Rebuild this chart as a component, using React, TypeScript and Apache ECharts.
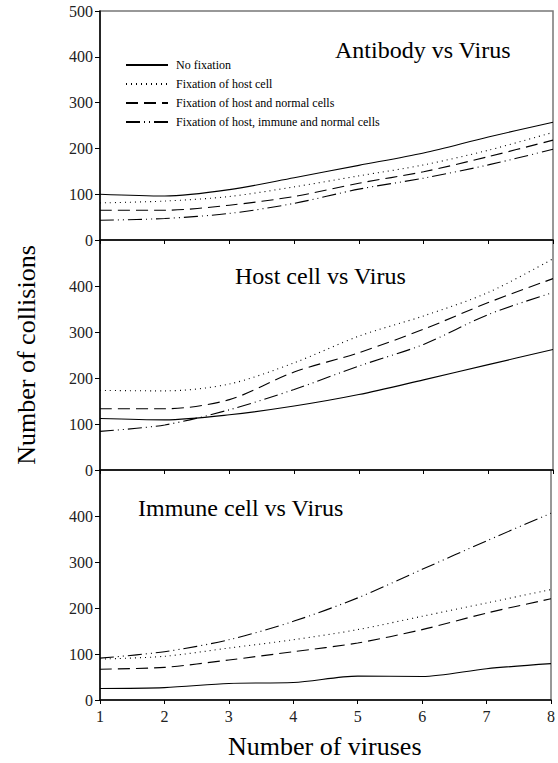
import React, { useEffect, useRef } from "react";
import * as echarts from "echarts";

const virusCounts = [1, 2, 3, 4, 5, 6, 7, 8];
const yTicks = [0, 100, 200, 300, 400, 500];
const seriesNames = [
  "No fixation",
  "Fixation of host cell",
  "Fixation of host and normal cells",
  "Fixation of host, immune and normal cells",
];
const panelTitles = ["Antibody vs Virus", "Host cell vs Virus", "Immune cell vs Virus"];

// Antibody vs Virus
const antibodyNoFix = [100, 96, 110, 136, 163, 190, 225, 257];
const antibodyHost = [81, 85, 95, 116, 140, 164, 196, 235];
const antibodyHostNormal = [65, 65, 76, 95, 124, 149, 182, 218];
const antibodyAll = [43, 47, 58, 80, 111, 135, 164, 198];

// Host cell vs Virus
const hostNoFix = [112, 109, 120, 139, 164, 196, 229, 262];
const hostHost = [173, 172, 187, 233, 291, 335, 386, 459];
const hostHostNormal = [133, 133, 153, 213, 255, 306, 364, 416];
const hostAll = [84, 98, 131, 175, 226, 273, 338, 386];

// Immune cell vs Virus
const immuneNoFix = [25, 27, 36, 38, 52, 51, 68, 79];
const immuneHost = [89, 95, 113, 131, 153, 182, 211, 240];
const immuneHostNormal = [67, 71, 87, 105, 124, 153, 189, 220];
const immuneAll = [91, 105, 131, 171, 222, 284, 346, 406];

const panels = [
  [antibodyNoFix, antibodyHost, antibodyHostNormal, antibodyAll],
  [hostNoFix, hostHost, hostHostNormal, hostAll],
  [immuneNoFix, immuneHost, immuneHostNormal, immuneAll],
];

const FAMILY = "Liberation Serif";

export default function App() {
  const ref = useRef<HTMLDivElement>(null);
  useEffect(() => {
    if (!ref.current) return;
    const chart = echarts.init(ref.current, null, { renderer: "svg" });
    const dashStyles: any[] = ["solid", [1, 4], [12, 6], [14, 4, 1, 4, 1, 4]];
    const gridTops = [11, 240, 470];
    const gridHeights = [229, 230, 230];
    const grids = gridTops.map((t, i) => ({
      left: 100,
      right: 5,
      top: t,
      height: gridHeights[i],
      show: true,
      borderColor: "#777",
      borderWidth: 1.5,
    }));
    const xAxes = gridTops.map((_, i) => ({
      type: "value",
      gridIndex: i,
      min: 1,
      max: 8,
      interval: 1,
      axisLine: { show: true, lineStyle: { color: "#000", width: 1.5 } },
      axisTick: { show: true, inside: false, length: 4, lineStyle: { color: "#000" } },
      axisLabel: {
        show: i === 2,
        color: "#222",
        fontFamily: FAMILY,
        fontSize: 16,
        margin: 8,
      },
      splitLine: { show: false },
    }));
    const yAxes = gridTops.map((_, i) => ({
      type: "value",
      gridIndex: i,
      min: 0,
      max: yTicks[yTicks.length - 1],
      interval: 100,
      axisLine: { show: true, lineStyle: { color: "#000", width: 1.5 } },
      axisTick: { show: true, inside: false, length: 5, lineStyle: { color: "#000" } },
      axisLabel: {
        color: "#222",
        fontFamily: FAMILY,
        fontSize: 16,
        margin: 7,
        showMaxLabel: i === 0,
      },
      splitLine: { show: false },
    }));
    const series: any[] = [];
    panels.forEach((p, gi) => {
      p.forEach((vals, si) => {
        series.push({
          type: "line",
          name: seriesNames[si],
          xAxisIndex: gi,
          yAxisIndex: gi,
          data: virusCounts.map((x, k) => [x, vals[k]]),
          smooth: 0.3,
          symbol: "none",
          showSymbol: false,
          lineStyle: { color: "#000", width: 1.1, type: dashStyles[si] },
          itemStyle: { color: "#000" },
          silent: true,
        });
      });
    });
    chart.setOption({
      animation: false,
      backgroundColor: "#fff",
      grid: grids,
      xAxis: xAxes,
      yAxis: yAxes,
      series,
      legend: {
        orient: "vertical",
        left: 120,
        top: 54,
        itemWidth: 42,
        itemHeight: 12,
        itemGap: 7,
        data: seriesNames,
        itemStyle: { opacity: 0, borderWidth: 0 },
        textStyle: { fontFamily: FAMILY, fontSize: 12, color: "#000", padding: [0, 0, 0, 3] },
        inactiveColor: "#000",
        selectedMode: false,
      },
      graphic: [
        {
          type: "text",
          left: 335,
          top: 38,
          style: { text: panelTitles[0], font: `24px ${FAMILY}`, fill: "#000" },
        },
        {
          type: "text",
          left: 235,
          top: 264,
          style: { text: panelTitles[1], font: `24px ${FAMILY}`, fill: "#000" },
        },
        {
          type: "text",
          left: 138,
          top: 496,
          style: { text: panelTitles[2], font: `24px ${FAMILY}`, fill: "#000" },
        },
        {
          type: "text",
          left: 228,
          top: 733,
          style: { text: "Number of viruses", font: `26px ${FAMILY}`, fill: "#000" },
        },
        {
          type: "text",
          x: 26,
          y: 355,
          rotation: Math.PI / 2,
          style: {
            text: "Number of collisions",
            font: `26px ${FAMILY}`,
            fill: "#000",
            align: "center",
            verticalAlign: "middle",
          },
        },
      ],
    });
    return () => chart.dispose();
  }, []);
  return (
    <div
      ref={ref}
      style={{ position: "absolute", left: 0, top: 0, width: 558, height: 763 }}
    />
  );
}
